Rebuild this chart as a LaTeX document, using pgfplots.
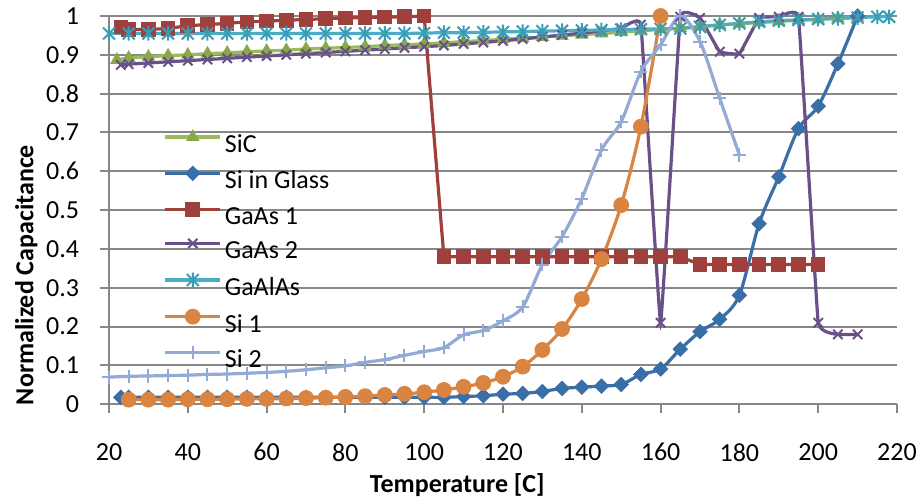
\documentclass[border=0pt]{standalone}
\usepackage{fontspec}
\setmainfont{Carlito}
\usepackage{pgfplots}
\pgfplotsset{compat=1.18}

\definecolor{sicline}{HTML}{9BBB59}
\definecolor{sicmark}{HTML}{88A84A}
\definecolor{glasscol}{HTML}{3A6EA7}
\definecolor{gaasonecol}{HTML}{A0403D}
\definecolor{gaastwocol}{HTML}{6A5089}
\definecolor{galascol}{HTML}{4BACC6}
\definecolor{galasmark}{HTML}{3A9DB5}
\definecolor{sionecol}{HTML}{DA8441}
\definecolor{sitwocol}{HTML}{92AAD4}
\definecolor{gridgray}{HTML}{878787}

% Excel style star: vertical bar plus an x
\pgfdeclareplotmark{xstar}{%
  \pgfpathmoveto{\pgfqpoint{0pt}{1.1\pgfplotmarksize}}%
  \pgfpathlineto{\pgfqpoint{0pt}{-1.1\pgfplotmarksize}}%
  \pgfpathmoveto{\pgfqpoint{0.9\pgfplotmarksize}{0.9\pgfplotmarksize}}%
  \pgfpathlineto{\pgfqpoint{-0.9\pgfplotmarksize}{-0.9\pgfplotmarksize}}%
  \pgfpathmoveto{\pgfqpoint{-0.9\pgfplotmarksize}{0.9\pgfplotmarksize}}%
  \pgfpathlineto{\pgfqpoint{0.9\pgfplotmarksize}{-0.9\pgfplotmarksize}}%
  \pgfusepathqstroke}

\begin{document}
\begin{tikzpicture}
\useasboundingbox (-54.5pt,-47.35pt) rectangle (406.5pt,202.15pt);
\begin{axis}[
    scale only axis,
    width=394pt, height=194.15pt,
    xmin=20, xmax=220, ymin=0, ymax=1,
    xtick={20,40,...,220},
    ytick={0,0.1,0.2,0.3,0.4,0.5,0.6,0.7,0.8,0.9,1},
    yticklabels={0,0.1,0.2,0.3,0.4,0.5,0.6,0.7,0.8,0.9,1},
    axis x line=bottom, axis y line=left,
    axis line style={-, gridgray, line width=1pt},
    tick style={gridgray, line width=1pt},
    tick align=outside,
    major tick length=4.5pt,
    ymajorgrids,
    grid style={gridgray, line width=1pt},
    clip=false,
    /pgf/number format/assume math mode=true,
    ticklabel style={font=\fontsize{13}{15}\selectfont, inner sep=0pt},
    xticklabel style={anchor=north, yshift=-14.8pt},
    yticklabel style={anchor=east, xshift=-10.3pt},
    legend cell align=left,
    legend style={at={(0.0689,0.707)}, anchor=north west, draw=none, fill=none,
        inner sep=0pt, row sep=3.95pt, column sep=1.5pt,
        font=\fontsize{13}{15}\selectfont,
        nodes={inner sep=0pt, text height=10pt, text depth=3pt}},
    legend image code/.code={%
        \draw[mark repeat=2,mark phase=2] plot coordinates {(0pt,4.2pt) (13.75pt,4.2pt) (27.5pt,4.2pt)};},
    every axis plot/.append style={line width=1.6pt},
]
% SiC
\addplot[sicline, smooth, mark=triangle*, mark size=3.4pt,
    mark options={solid, fill=sicmark, draw=sicmark, line width=0.5pt}] coordinates {
 (22,0.887) (25,0.892) (30,0.895) (35,0.898) (40,0.900) (45,0.903) (50,0.905)
 (55,0.908) (60,0.910) (65,0.912) (70,0.915) (75,0.917) (80,0.919) (85,0.921)
 (90,0.924) (95,0.926) (100,0.928) (105,0.931) (110,0.934) (115,0.937) (120,0.940)
 (125,0.943) (130,0.946) (135,0.949) (140,0.952) (145,0.955) (150,0.958) (155,0.962)
 (160,0.965) (165,0.969) (170,0.973) (175,0.977) (180,0.980) (185,0.983) (190,0.986)
 (195,0.989) (200,0.991) (205,0.994) (210,0.996)};
\addlegendentry{SiC}
% Si in Glass
\addplot[glasscol, smooth, mark=square*, mark size=2.5pt,
    mark options={solid, rotate=45, fill=glasscol, line width=0.5pt}] coordinates {
 (23,0.018) (25,0.018) (30,0.018) (35,0.018) (40,0.018) (45,0.018) (50,0.018)
 (55,0.018) (60,0.018) (65,0.018) (70,0.018) (75,0.018) (80,0.018) (85,0.018)
 (90,0.018) (95,0.018) (100,0.018) (105,0.018) (110,0.020) (115,0.022) (120,0.026)
 (125,0.028) (130,0.033) (135,0.041) (140,0.044) (145,0.047) (150,0.051) (155,0.077)
 (160,0.091) (165,0.142) (170,0.187) (175,0.219) (180,0.281) (185,0.465) (190,0.586)
 (195,0.710) (200,0.768) (205,0.877) (210,1.000)};
\addlegendentry{Si in Glass}
% GaAs 1
\addplot[gaasonecol, mark=square*, mark size=3.4pt,
    mark options={solid, fill=gaasonecol, line width=0.5pt}] coordinates {
 (23,0.972) (25,0.965) (30,0.965) (35,0.968) (40,0.975) (45,0.978) (50,0.981)
 (55,0.985) (60,0.987) (65,0.989) (70,0.991) (75,0.993) (80,0.995) (85,0.996)
 (90,0.997) (95,0.998) (100,1.000) (105,0.380) (110,0.380) (115,0.380) (120,0.380)
 (125,0.380) (130,0.380) (135,0.380) (140,0.380) (145,0.380) (150,0.380) (155,0.380)
 (160,0.380) (165,0.380) (170,0.360) (175,0.360) (180,0.360) (185,0.360) (190,0.360)
 (195,0.360) (200,0.360)};
\addlegendentry{GaAs 1}
% GaAs 2
\addplot[gaastwocol, smooth, tension=0.12, mark=x, mark size=3.3pt,
    mark options={solid, line width=1pt}] coordinates {
 (23,0.874) (25,0.876) (30,0.879) (35,0.882) (40,0.885) (45,0.888) (50,0.891)
 (55,0.894) (60,0.897) (65,0.900) (70,0.903) (75,0.906) (80,0.909) (85,0.912)
 (90,0.915) (95,0.918) (100,0.921) (105,0.924) (110,0.928) (115,0.932) (120,0.936)
 (125,0.941) (130,0.946) (135,0.951) (140,0.956) (145,0.962) (150,0.968) (155,0.978)
 (160,0.210) (165,0.998) (170,0.995) (175,0.908) (180,0.903) (185,0.995) (190,0.998)
 (195,0.998) (200,0.210) (205,0.180) (210,0.180)};
\addlegendentry{GaAs 2}
% GaAlAs
\addplot[galascol, smooth, mark=xstar, mark size=3.3pt,
    mark options={solid, draw=galasmark, line width=1pt}] coordinates {
 (20,0.955) (25,0.955) (30,0.955) (35,0.955) (40,0.955) (45,0.955) (50,0.955)
 (55,0.955) (60,0.955) (65,0.955) (70,0.955) (75,0.955) (80,0.955) (85,0.955)
 (90,0.955) (95,0.955) (100,0.956) (105,0.957) (110,0.957) (115,0.958) (120,0.959)
 (125,0.960) (130,0.961) (135,0.962) (140,0.963) (145,0.964) (150,0.965) (155,0.966)
 (160,0.967) (165,0.968) (170,0.972) (175,0.977) (180,0.981) (185,0.985) (190,0.988)
 (195,0.990) (200,0.992) (205,0.994) (210,0.996) (215,0.998) (218,0.998)};
\addlegendentry{GaAlAs}
% Si 1
\addplot[sionecol, smooth, mark=*, mark size=3.7pt,
    mark options={solid, fill=sionecol, line width=0.5pt}] coordinates {
 (25,0.012) (30,0.012) (35,0.012) (40,0.013) (45,0.013) (50,0.013) (55,0.014)
 (60,0.014) (65,0.015) (70,0.016) (75,0.017) (80,0.019) (85,0.021) (90,0.024)
 (95,0.027) (100,0.031) (105,0.037) (110,0.045) (115,0.055) (120,0.071) (125,0.097)
 (130,0.140) (135,0.194) (140,0.271) (145,0.374) (150,0.513) (155,0.715) (160,1.000)};
\addlegendentry{Si 1}
% Si 2
\addplot[sitwocol, smooth, mark=+, mark size=3.3pt,
    mark options={solid, line width=1pt}] coordinates {
 (20,0.070) (25,0.072) (30,0.073) (35,0.074) (40,0.075) (45,0.077) (50,0.078)
 (55,0.080) (60,0.082) (65,0.085) (70,0.089) (75,0.094) (80,0.099) (85,0.108)
 (90,0.115) (95,0.126) (100,0.136) (105,0.146) (110,0.179) (115,0.190) (120,0.215)
 (125,0.251) (130,0.360) (135,0.432) (140,0.530) (145,0.655) (150,0.728) (155,0.857)
 (160,0.926) (165,1.000) (170,0.934) (175,0.788) (180,0.642)};
\addlegendentry{Si 2}
\end{axis}
\node[rotate=90, anchor=base, font=\fontsize{13}{15}\selectfont\bfseries, inner sep=0pt]
    at (-37.85pt,64.65pt) {Normalized Capacitance};
\node[anchor=base, font=\fontsize{13}{15}\selectfont\bfseries, inner sep=0pt]
    at (174.15pt,-44pt) {Temperature [C]};
\end{tikzpicture}
\end{document}
